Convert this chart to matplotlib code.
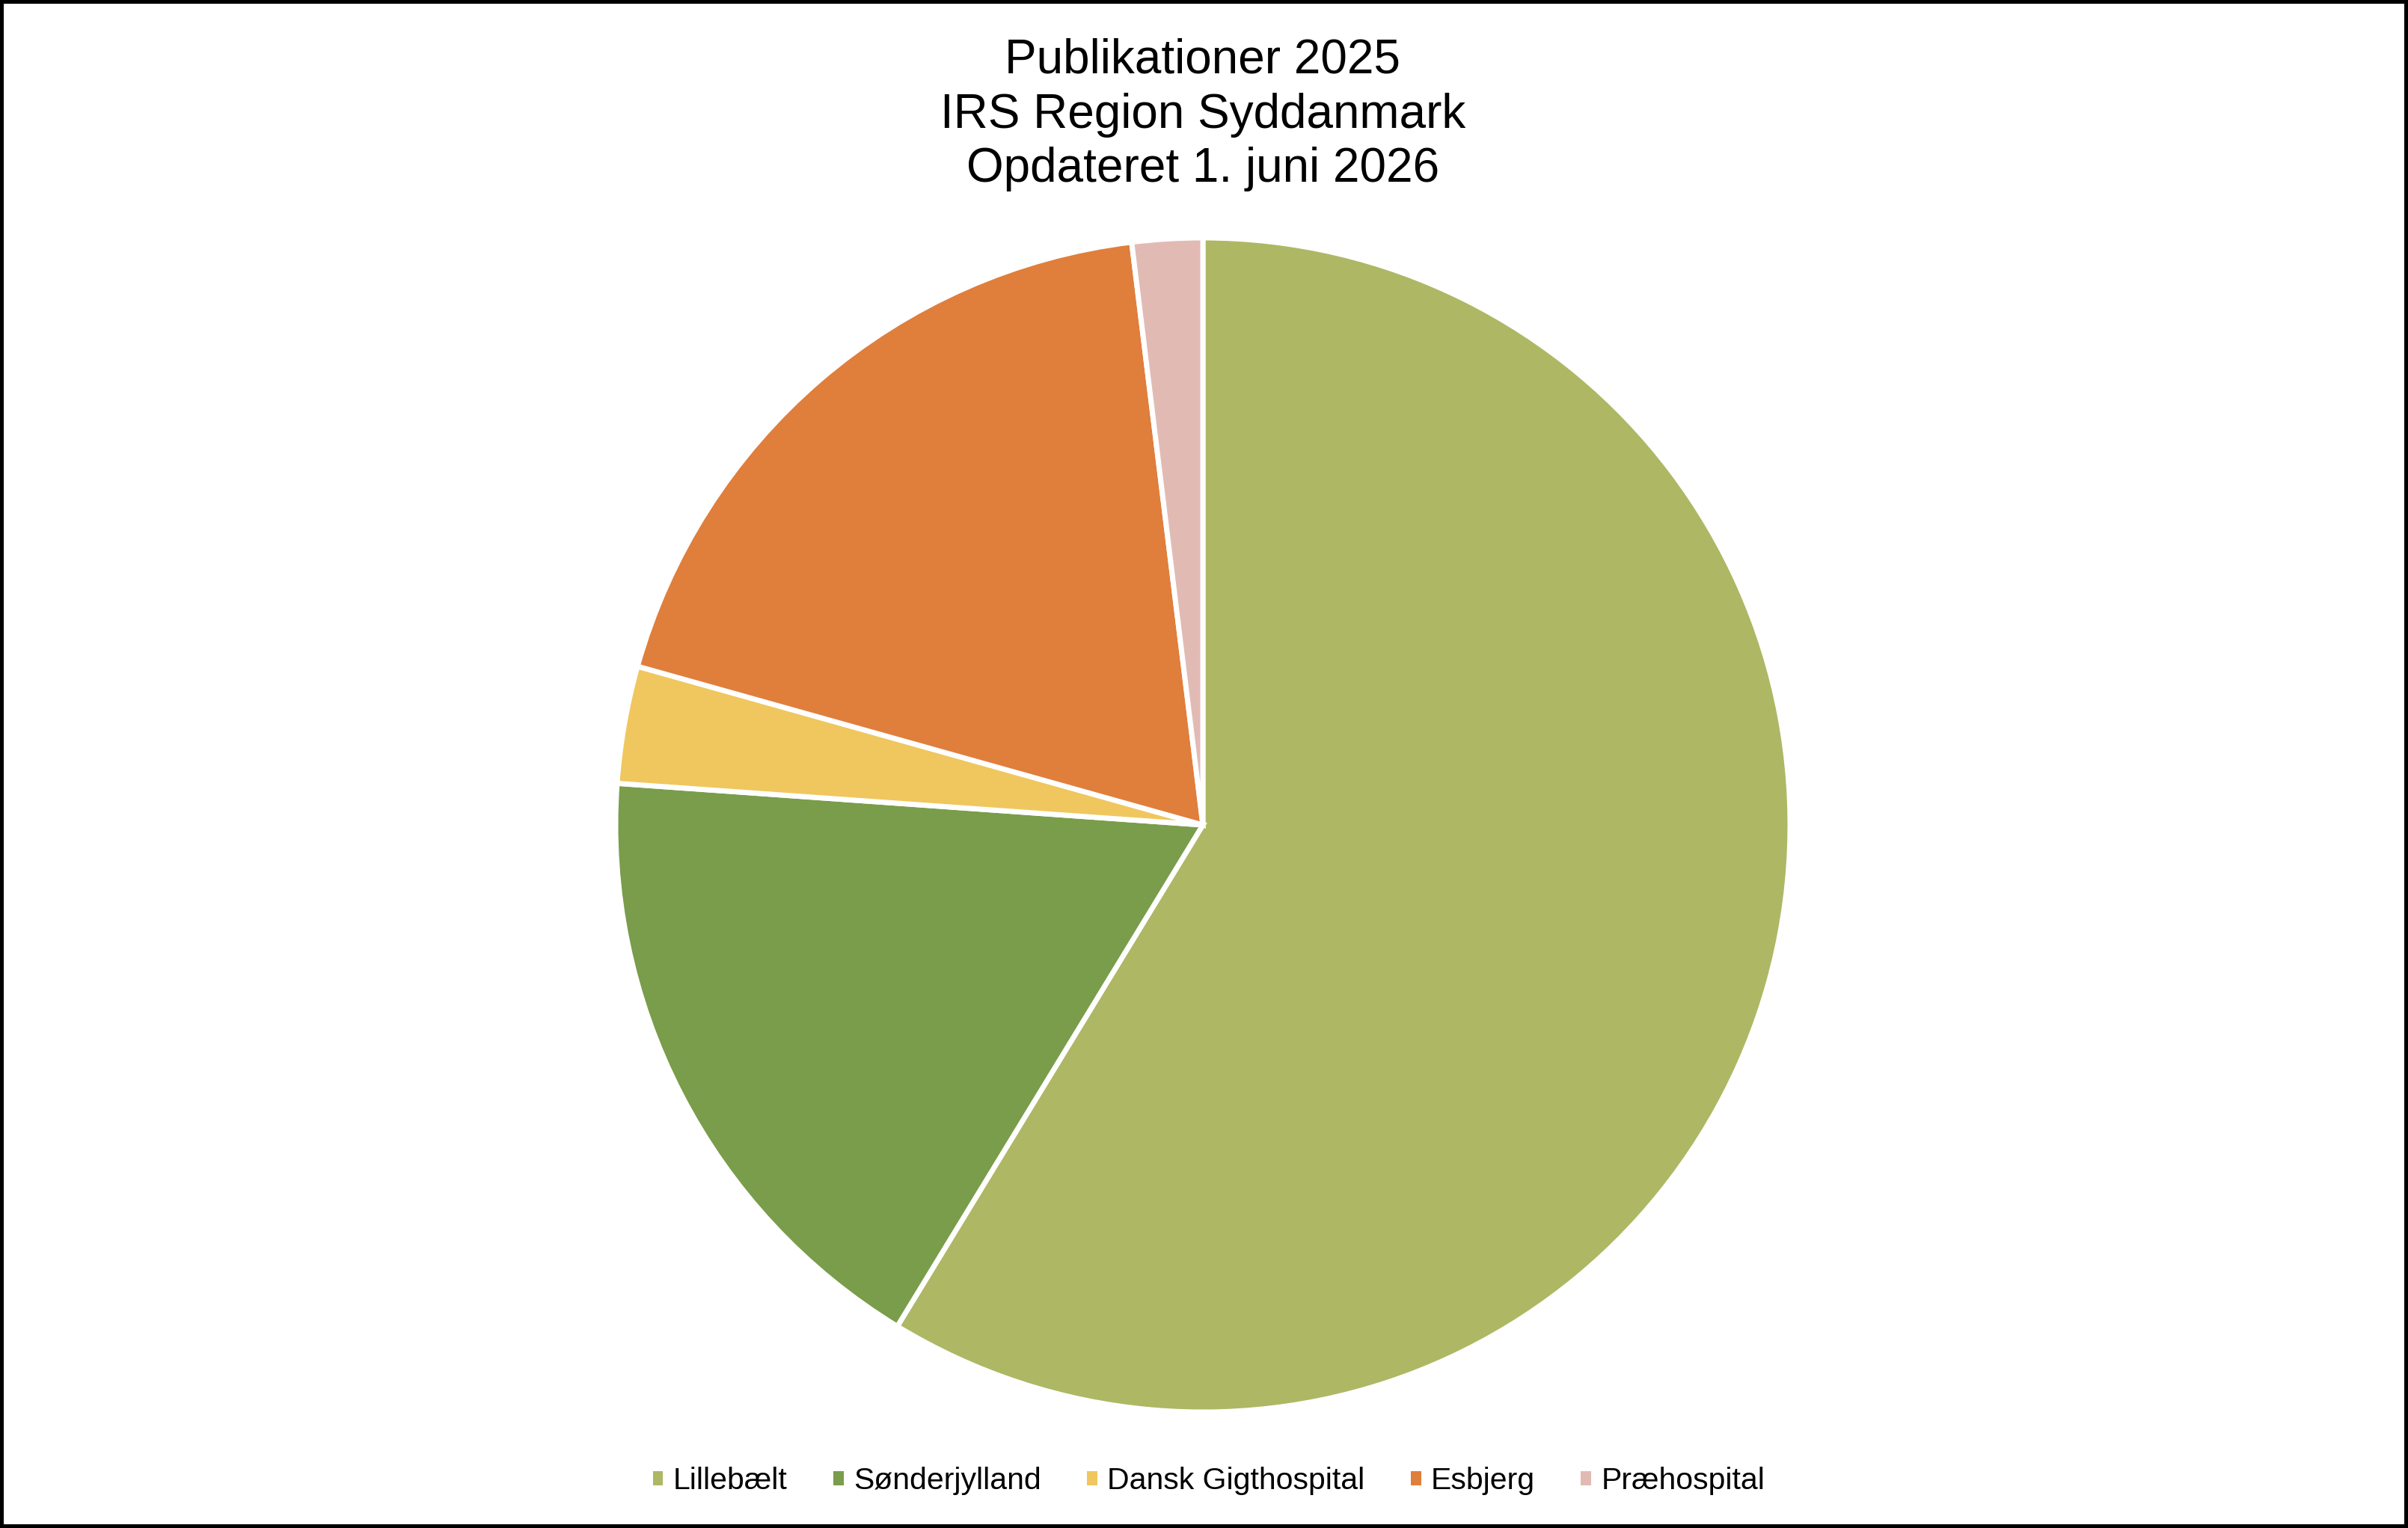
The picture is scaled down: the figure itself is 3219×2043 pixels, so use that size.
import matplotlib
matplotlib.use("Agg")
import matplotlib.pyplot as plt
from matplotlib.patches import Rectangle, Patch

plt.rcParams['font.family'] = ['Liberation Sans', 'DejaVu Sans']

# data
labels = ['Lillebælt', 'Sønderjylland', 'Dansk Gigthospital', 'Esbjerg', 'Præhospital']
counts = [91, 27, 5, 29, 3]
colors = ['#AEB764', '#799D4A', '#F0C75E', '#E07E3C', '#E2BAB4']
title_lines = ['Publikationer 2025', 'IRS Region Syddanmark', 'Opdateret 1. juni 2026']

W, H = 3219, 2043
fig = plt.figure(figsize=(W / 100, H / 100), dpi=100)

# pie axes, square in pixels
cx, cy, r = 1608, H - 1103, 785
ax = fig.add_axes([(cx - r) / W, (cy - r) / H, 2 * r / W, 2 * r / H])
wedges, _ = ax.pie(counts, colors=colors, startangle=90, counterclock=False,
                   wedgeprops=dict(edgecolor='white', linewidth=5))
ax.set_xlim(-1, 1)
ax.set_ylim(-1, 1)
ax.axis('off')

# title, one text per line
for i, line in enumerate(title_lines):
    fig.text(0.4995, 1 - (98 + 72.5 * i) / H, line, ha='center', va='baseline',
             fontsize=46, color='black')

# legend squares without the white wedge edge
handles = [Patch(facecolor=c, edgecolor='none') for c in colors]
fig.legend(handles, labels, loc='center', bbox_to_anchor=(0.502, 63 / H), ncol=5,
           frameon=False, fontsize=29.5, handlelength=0.34, handleheight=0.34,
           handletextpad=0.32, columnspacing=1.5)

# outer frame
fig.add_artist(Rectangle((0, 0), 1, 1, transform=fig.transFigure, fill=False,
                         edgecolor='black', linewidth=7.2, clip_on=False))

fig.savefig('out.png', dpi=100, facecolor='white')
